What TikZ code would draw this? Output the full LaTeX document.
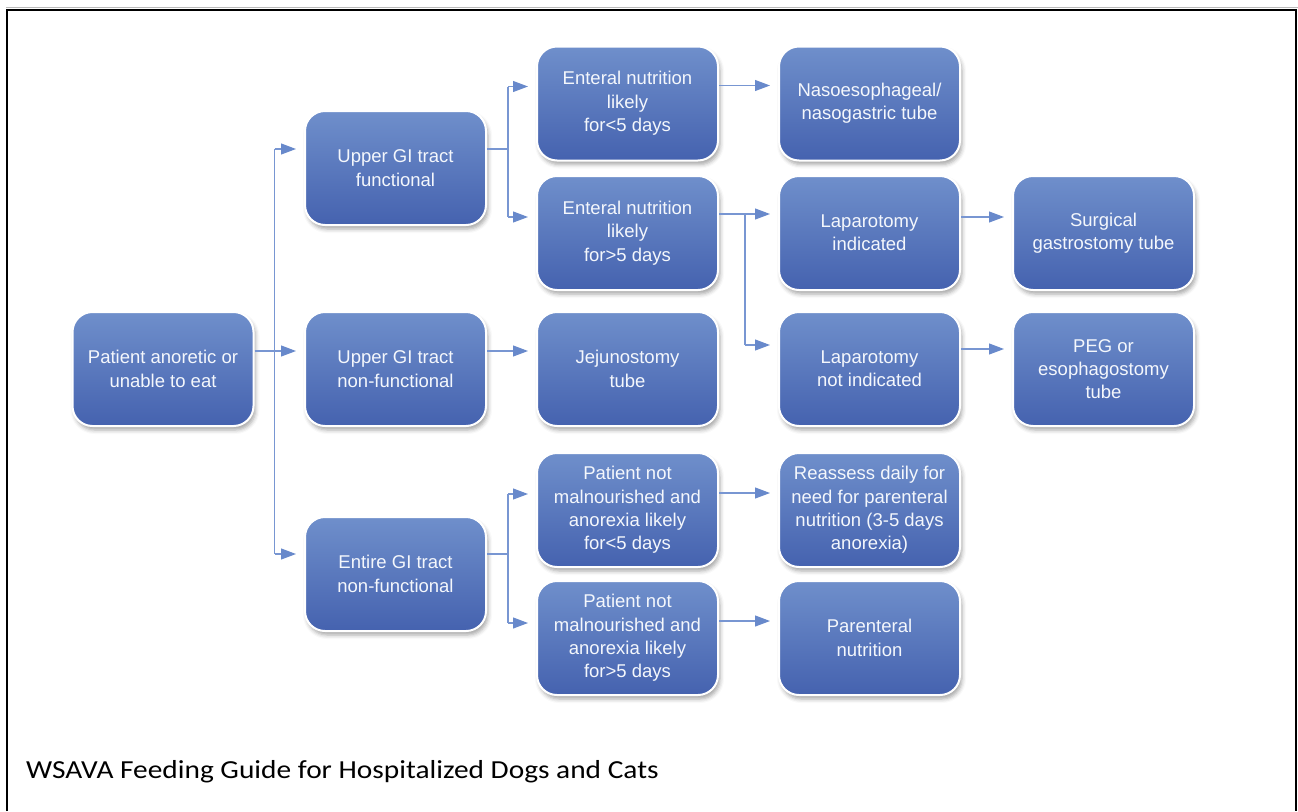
\documentclass[tikz,border=0pt]{standalone}
\usepackage{fontspec}
\setmainfont{Liberation Sans}
\newfontfamily\capfont[FakeStretch=1.13]{Carlito}
\usetikzlibrary{arrows.meta,shadows.blur,calc}
\definecolor{boxtop}{RGB}{111,143,203}
\definecolor{boxbot}{RGB}{69,98,175}
\definecolor{linkc}{RGB}{120,150,210}
\definecolor{headc}{RGB}{104,137,203}
\definecolor{txtc}{RGB}{244,247,252}
\tikzset{
  flowbox/.style={draw=white, line width=2pt, rounded corners=20pt,
    top color=boxtop, bottom color=boxbot,
    minimum width=181pt, minimum height=114pt, inner sep=2pt,
    align=center, text=txtc,
    font=\fontsize{18.5}{23.3}\selectfont,
    blur shadow={shadow xshift=2pt, shadow yshift=-4pt, shadow blur radius=4pt, shadow opacity=35}},
  linkline/.style={draw=linkc, line width=1.1pt},
  linkarrow/.style={linkline, shorten >=8pt, -{Triangle[length=15pt,width=11pt,fill=headc,color=headc]}}
}
\begin{document}
\begin{tikzpicture}[x=1pt,y=-1pt]
\useasboundingbox (0,0) rectangle (1298,811);
% frame
\draw[gray!55, line width=1.4pt] (6,7.3) -- (1298,7.3);
\draw[black, line width=2pt] (7,811) -- (7,9.6) -- (1296.3,9.6) -- (1296.3,811);

% boxes
\node[flowbox] (pat) at (163,369) {Patient anoretic or\\unable to eat};
\node[flowbox] (ugf) at (395.5,168) {Upper GI tract\\functional};
\node[flowbox] (ugn) at (395.5,369) {Upper GI tract\\non-functional};
\node[flowbox] (egi) at (395.5,574) {Entire GI tract\\non-functional};
\node[flowbox] (en1) at (627.5,103.5) {Enteral nutrition\\likely\\for<5 days};
\node[flowbox] (en2) at (627.5,233) {Enteral nutrition\\likely\\for>5 days};
\node[flowbox] (jej) at (627.5,369) {Jejunostomy\\tube};
\node[flowbox] (pn1) at (627.5,510) {Patient not\\malnourished and\\anorexia likely\\for<5 days};
\node[flowbox] (pn2) at (627.5,638) {Patient not\\malnourished and\\anorexia likely\\for>5 days};
\node[flowbox] (nas) at (869.5,103.5) {Nasoesophageal/\\nasogastric tube};
\node[flowbox] (lpi) at (869.5,233) {Laparotomy\\indicated};
\node[flowbox] (lpn) at (869.5,369) {Laparotomy\\not indicated};
\node[flowbox] (rea) at (869.5,510) {Reassess daily for\\need for parenteral\\nutrition (3-5 days\\anorexia)};
\node[flowbox] (par) at (869.5,638) {Parenteral\\nutrition};
\node[flowbox] (sur) at (1103.5,233) {Surgical\\gastrostomy tube};
\node[flowbox] (peg) at (1103.5,369) {PEG or\\esophagostomy\\tube};

% junction coordinates
\coordinate (j1) at ([xshift=20pt]pat.east);
\coordinate (j2) at ([xshift=21pt]ugf.east);
\coordinate (j3) at ([xshift=21pt]egi.east);
\coordinate (j4) at ([xshift=26pt]en2.east);
% entry points
\coordinate (ugfin) at ([yshift=19pt]ugf.west);
\coordinate (ugnin) at ([yshift=18pt]ugn.west);
\coordinate (egiin) at ([yshift=20pt]egi.west);
\coordinate (en1in) at ([yshift=17pt]en1.west);
\coordinate (en2in) at ([yshift=16pt]en2.west);
\coordinate (pn1in) at ([yshift=16pt]pn1.west);
\coordinate (pn2in) at ([yshift=15pt]pn2.west);
\coordinate (lpiin) at ([yshift=19pt]lpi.west);
\coordinate (lpnin) at ([yshift=24pt]lpn.west);

% patient -> level 1
\draw[linkarrow] ([yshift=18pt]pat.east) -- (ugnin);
\draw[linkline] (ugfin -| j1) -- (egiin -| j1);
\draw[linkarrow] (ugfin -| j1) -- (ugfin);
\draw[linkarrow] (egiin -| j1) -- (egiin);

% upper GI functional -> enteral
\draw[linkline] (ugfin -| ugf.east) -- (ugfin -| j2);
\draw[linkline] (en1in -| j2) -- (en2in -| j2);
\draw[linkarrow] (en1in -| j2) -- (en1in);
\draw[linkarrow] (en2in -| j2) -- (en2in);

% upper GI non-functional -> jejunostomy
\draw[linkarrow] ([yshift=18pt]ugn.east) -- ([yshift=18pt]jej.west);

% entire GI -> patient not
\draw[linkline] (egiin -| egi.east) -- (egiin -| j3);
\draw[linkline] (pn1in -| j3) -- (pn2in -| j3);
\draw[linkarrow] (pn1in -| j3) -- (pn1in);
\draw[linkarrow] (pn2in -| j3) -- (pn2in);

% enteral <5 -> naso
\draw[linkarrow] ([yshift=18pt]en1.east) -- ([yshift=18pt]nas.west);

% enteral >5 -> laparotomy
\draw[linkline] (lpiin -| en2.east) -- (lpiin -| j4);
\draw[linkline] (lpiin -| j4) -- (lpnin -| j4);
\draw[linkarrow] (lpiin -| j4) -- (lpiin);
\draw[linkarrow] (lpnin -| j4) -- (lpnin);

% laparotomy -> tubes
\draw[linkarrow] ([yshift=16pt]lpi.east) -- ([yshift=16pt]sur.west);
\draw[linkarrow] ([yshift=20pt]lpn.east) -- ([yshift=20pt]peg.west);

% patient not -> outcomes
\draw[linkarrow] ([yshift=17pt]pn1.east) -- ([yshift=17pt]rea.west);
\draw[linkarrow] ([yshift=17pt]pn2.east) -- ([yshift=17pt]par.west);

% caption
\node[anchor=base west, inner sep=0pt, font=\capfont\fontsize{26}{30}\selectfont] (cap) at (26,778.5) {WSAVA Feeding Guide for Hospitalized Dogs and Cats};
\end{tikzpicture}
\end{document}
